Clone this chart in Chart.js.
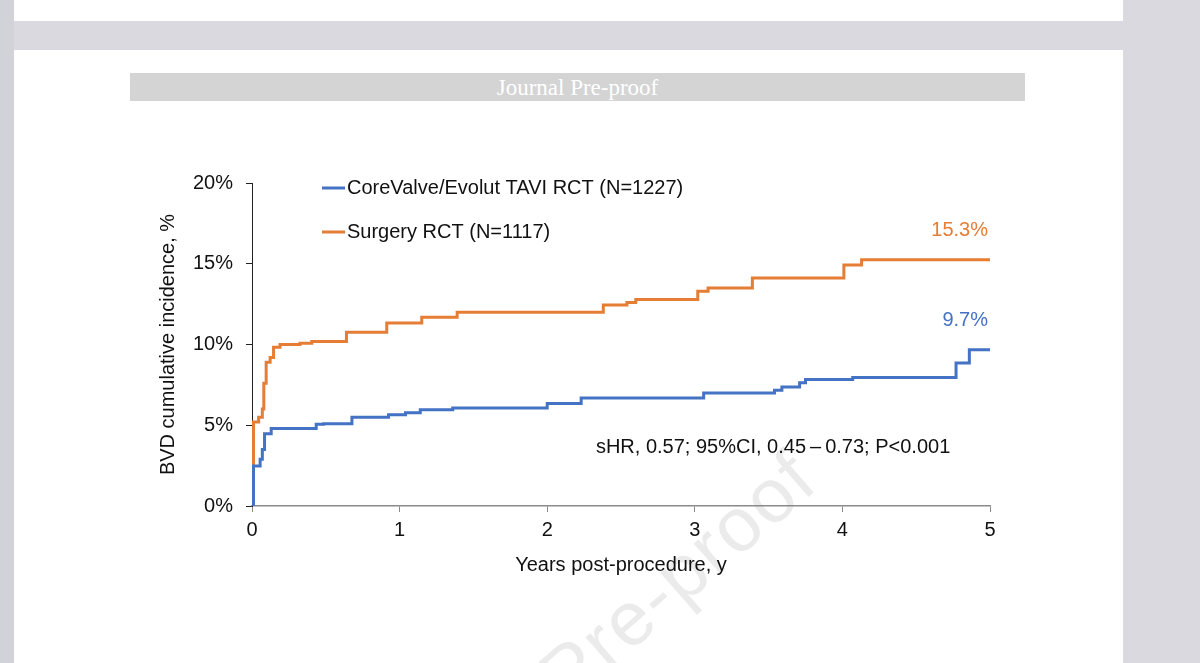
<!DOCTYPE html>
<html>
<head>
<meta charset="utf-8">
<script src="https://cdn.jsdelivr.net/npm/chart.js@4.4.1/dist/chart.umd.min.js"></script>
<style>
  html, body { margin: 0; padding: 0; }
  body { width: 1200px; height: 663px; background: #d9d9df; position: relative; overflow: hidden; }
  .strip { position: absolute; left: 0; top: 0; width: 14px; height: 663px; background: #d2d2d9; }
  .page { position: absolute; left: 14px; width: 1109px; background: #fff; }
  #page1 { top: 0; height: 21px; }
  #page2 { top: 50px; height: 613px; }
  #banner {
    position: absolute; left: 130px; top: 73px; width: 895px; height: 28px;
    background: #d4d4d4; color: #fff; text-align: center;
    font: 23px "Liberation Serif", "DejaVu Serif", serif; line-height: 30px;
  }
  #wrap { position: absolute; left: 0; top: 0; width: 1200px; height: 663px; }
</style>
</head>
<body>
<div class="strip"></div>
<div class="page" id="page1"></div>
<div class="page" id="page2"></div>
<div id="banner">Journal Pre-proof</div>
<div id="wrap"><canvas id="km" width="1200" height="663"></canvas></div>
<script>
    'use strict';

    // years post-procedure / cumulative incidence (%)
    const taviYears = [0, 0.01, 0.055, 0.07, 0.085, 0.13, 0.435, 0.485, 0.677, 0.925, 1.04, 1.14, 1.36,
        2.0, 2.23, 3.06, 3.54, 3.59, 3.71, 3.75, 4.07, 4.77, 4.86, 5.0]
    const taviValues = [0, 2.47, 2.9, 3.5, 4.48, 4.8, 5.06, 5.1, 5.5, 5.65, 5.78, 5.96, 6.07,
        6.34, 6.69, 7.0, 7.16, 7.37, 7.63, 7.84, 7.96, 8.85, 9.67, 9.67]

    const surgYears = [0, 0.01, 0.045, 0.07, 0.08, 0.096, 0.123, 0.146, 0.19, 0.325, 0.405, 0.64, 0.913,
        1.15, 1.39, 2.38, 2.54, 2.6, 3.02, 3.09, 3.39, 4.01, 4.13, 5.0]
    const surgValues = [0, 5.2, 5.5, 6.0, 7.6, 8.9, 9.2, 9.83, 10.0, 10.08, 10.18, 10.76, 11.33,
        11.68, 12.0, 12.45, 12.6, 12.78, 13.29, 13.5, 14.12, 14.92, 15.25, 15.25]

    const seriesLabels = ['CoreValve/Evolut TAVI RCT (N=1227)', 'Surgery RCT (N=1117)']
    const endLabels = ['9.7%', '15.3%']
    const statText = 'sHR, 0.57; 95%CI, 0.45\u2009\u2013\u20090.73; P<0.001'
    const xTicks = [0, 1, 2, 3, 4, 5]
    const yTicks = [0, 5, 10, 15, 20]

    const BLUE = '#4472C4'
    const ORANGE = '#E67D35'
    const FONT = '"Liberation Sans", Arial, sans-serif'

    const toPoints = (xs, ys) => xs.map((x, i) => ({ x: x, y: ys[i] }))

    // faint diagonal watermark behind everything
    const watermark = {
        id: 'watermark',
        beforeDraw(chart) {
            const c = chart.ctx
            c.save()
            c.translate(821, 486)
            c.rotate(-41 * Math.PI / 180)
            c.font = '76px ' + FONT
            c.letterSpacing = '2px'
            c.fillStyle = '#ebebeb'
            c.textAlign = 'right'
            c.textBaseline = 'alphabetic'
            c.fillText('Journal Pre-proof', 0, 0)
            c.restore()
        }
    }

    // legend in the top-left of the plot, end labels and the stats line
    const notes = {
        id: 'notes',
        afterDatasetsDraw(chart) {
            const c = chart.ctx
            const xs = chart.scales.x, ys = chart.scales.y
            const area = chart.chartArea
            c.save()
            c.font = '20px ' + FONT
            c.textBaseline = 'middle'
            chart.data.datasets.forEach((ds, i) => {
                const ly = area.top + 5 + i * 44
                c.strokeStyle = ds.borderColor
                c.lineWidth = 3
                c.beginPath()
                c.moveTo(area.left + 70, ly)
                c.lineTo(area.left + 93, ly)
                c.stroke()
                c.fillStyle = '#111'
                c.textAlign = 'left'
                c.fillText(ds.label, area.left + 95, ly)

                const last = ds.data[ds.data.length - 1]
                c.fillStyle = ds.borderColor
                c.textAlign = 'right'
                c.fillText(endLabels[i], xs.getPixelForValue(last.x) - 2, ys.getPixelForValue(last.y) - 29)
            })
            c.fillStyle = '#111'
            c.textAlign = 'left'
            c.fillText(statText, xs.getPixelForValue(2.33), ys.getPixelForValue(3.6))
            c.restore()
        }
    }

    new Chart(document.getElementById('km'), {
        type: 'line',
        data: {
            datasets: [
                { label: seriesLabels[0], data: toPoints(taviYears, taviValues), borderColor: BLUE },
                { label: seriesLabels[1], data: toPoints(surgYears, surgValues), borderColor: ORANGE }
            ]
        },
        options: {
            responsive: false,
            animation: false,
            devicePixelRatio: 1,
            layout: { padding: { left: 156, right: 210, top: 183, bottom: 86 } },
            elements: {
                line: { borderWidth: 3, stepped: true, tension: 0, fill: false },
                point: { radius: 0 }
            },
            plugins: { legend: { display: false }, tooltip: { enabled: false } },
            scales: {
                x: {
                    type: 'linear', min: 0, max: 5,
                    afterFit: (s) => { s.height = 71 },
                    afterBuildTicks: (s) => { s.ticks = xTicks.map(v => ({ value: v })) },
                    ticks: { color: '#111', font: { family: FONT, size: 20 }, padding: 6, maxRotation: 0 },
                    grid: { drawOnChartArea: false, drawTicks: true, tickLength: 6, color: '#8a8a8a' },
                    border: { color: '#8a8a8a', width: 1.5 },
                    title: { display: true, text: 'Years post-procedure, y', color: '#111', padding: 0,
                        font: { family: FONT, size: 20 } }
                },
                y: {
                    min: 0, max: 20,
                    afterFit: (s) => { s.width = 96 },
                    afterBuildTicks: (s) => { s.ticks = yTicks.map(v => ({ value: v })) },
                    ticks: { color: '#111', font: { family: FONT, size: 20 }, padding: 13,
                        callback: (v) => v + '%' },
                    grid: { drawOnChartArea: false, drawTicks: true, tickLength: 6, color: '#222' },
                    border: { color: '#222', width: 1 },
                    title: { display: true, text: 'BVD cumulative incidence, %', color: '#111', padding: 0,
                        font: { family: FONT, size: 20 } }
                }
            }
        },
        plugins: [watermark, notes]
    })
</script>
</body>
</html>
